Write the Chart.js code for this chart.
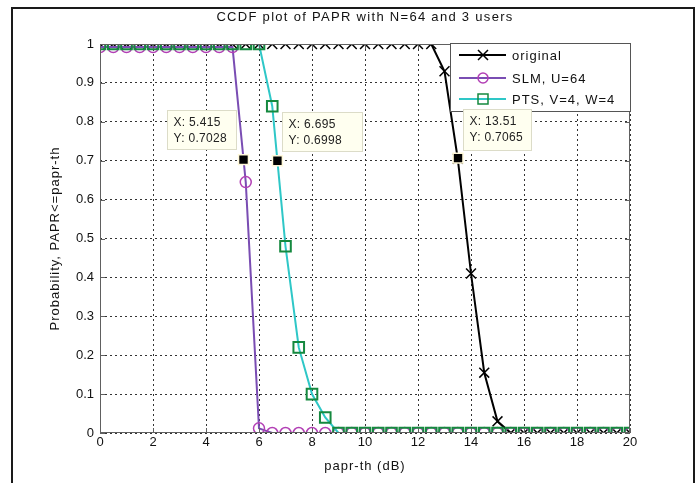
<!DOCTYPE html>
<html>
<head>
<meta charset="utf-8">
<script src="https://cdn.jsdelivr.net/npm/chart.js@4/dist/chart.umd.min.js"></script>
<style>
  html, body { margin: 0; padding: 0; background: #fff; }
  #wrap { width: 699px; height: 483px; }
</style>
</head>
<body>
<div id="wrap"><canvas id="myChart" width="699" height="483"></canvas></div>
<script>
// papr-th (dB) sample points
const paprTh = [0, 0.5, 1, 1.5, 2, 2.5, 3, 3.5, 4, 4.5, 5, 5.5, 6, 6.5, 7, 7.5, 8, 8.5, 9, 9.5,
    10, 10.5, 11, 11.5, 12, 12.5, 13, 13.5, 14, 14.5, 15, 15.5, 16, 16.5, 17, 17.5, 18, 18.5, 19, 19.5, 20];

const original = [1, 1, 1, 1, 1, 1, 1, 1, 1, 1, 1, 1, 1, 1, 1, 1, 1, 1, 1, 1,
    1, 1, 1, 1, 1, 1, 0.93, 0.705, 0.41, 0.155, 0.03, 0, 0, 0, 0, 0, 0, 0, 0, 0, 0];

const slm = [0.992, 0.992, 0.992, 0.992, 0.992, 0.992, 0.992, 0.992, 0.992, 0.992, 0.992, 0.645, 0.012, 0, 0, 0, 0, 0, 0, 0,
    0, 0, 0, 0, 0, 0, 0, 0, 0, 0, 0, 0, 0, 0, 0, 0, 0, 0, 0, 0, 0];

const pts = [1, 1, 1, 1, 1, 1, 1, 1, 1, 1, 1, 1, 1, 0.84, 0.48, 0.22, 0.1, 0.04, 0, 0,
    0, 0, 0, 0, 0, 0, 0, 0, 0, 0, 0, 0, 0, 0, 0, 0, 0, 0, 0, 0, 0];

const seriesNames = ['original', 'SLM, U=64', 'PTS, V=4, W=4'];

// data cursors
const tipX = [5.415, 6.695, 13.51];
const tipY = [0.7028, 0.6998, 0.7065];

const xTicks = [0, 2, 4, 6, 8, 10, 12, 14, 16, 18, 20];
const yTicks = [0, 0.1, 0.2, 0.3, 0.4, 0.5, 0.6, 0.7, 0.8, 0.9, 1];

const font = 'Liberation Sans, Arial, sans-serif';

function pairs(xs, ys) {
    return xs.map((x, i) => ({ x: x, y: ys[i] }));
}

// tip box offsets relative to the marker pixel: [dx, dy, w, h]
const tipBoxes = [[-76, -50, 69, 39], [5, -49, 80, 39], [5, -49, 68, 41]];

const decorPlugin = {
    id: 'decor',
    beforeDraw(chart) {
        const c = chart.ctx;
        c.save();
        c.fillStyle = '#fff';
        c.fillRect(0, 0, chart.width, chart.height);
        c.restore();
    },
    afterDraw(chart) {
        const c = chart.ctx;
        const a = chart.chartArea;
        const xs = chart.scales.x, ys = chart.scales.y;
        c.save();

        // outer frame
        c.strokeStyle = '#1a1a1a';
        c.lineWidth = 2;
        c.beginPath();
        c.moveTo(12, 490);
        c.lineTo(12, 8);
        c.lineTo(694, 8);
        c.lineTo(694, 490);
        c.stroke();

        // axes box + inner ticks
        c.strokeStyle = '#606060';
        c.lineWidth = 1;
        c.strokeRect(a.left + 0.5, a.top + 0.5, a.right - a.left - 1, a.bottom - a.top - 1);
        c.beginPath();
        xTicks.forEach(t => {
            const px = Math.round(xs.getPixelForValue(t)) + 0.5;
            c.moveTo(px, a.bottom); c.lineTo(px, a.bottom - 5);
            c.moveTo(px, a.top); c.lineTo(px, a.top + 5);
        });
        yTicks.forEach(t => {
            const py = Math.round(ys.getPixelForValue(t)) + 0.5;
            c.moveTo(a.left, py); c.lineTo(a.left + 5, py);
            c.moveTo(a.right, py); c.lineTo(a.right - 5, py);
        });
        c.stroke();

        // title and axis labels
        c.fillStyle = '#111';
        c.font = '13px ' + font;
        c.letterSpacing = '1.3px';
        c.textAlign = 'center';
        c.textBaseline = 'middle';
        c.fillText('CCDF plot of PAPR with N=64 and 3 users', (a.left + a.right) / 2, 17);
        c.letterSpacing = '1px';
        c.fillText('papr-th (dB)', (a.left + a.right) / 2, 466);
        c.save();
        c.translate(55, (a.top + a.bottom) / 2);
        c.rotate(-Math.PI / 2);
        c.fillText('Probability, PAPR<=papr-th', 0, 0);
        c.restore();

        // legend
        const lx = 450, ly = a.top - 1, lw = a.right - 450, lh = 68;
        c.fillStyle = '#fff';
        c.fillRect(lx, ly, lw, lh);
        c.strokeStyle = '#555';
        c.strokeRect(lx + 0.5, ly + 0.5, lw, lh);
        const rows = [55, 78, 99];
        const ds = chart.data.datasets;
        [0, 1, 2].forEach(i => {
            const d = ds.find(s => s.label === seriesNames[i]);
            const y = rows[i];
            c.strokeStyle = d.borderColor;
            c.lineWidth = 2;
            c.beginPath();
            c.moveTo(459, y); c.lineTo(506, y);
            c.stroke();
            c.strokeStyle = d.pointBorderColor;
            c.lineWidth = 1.5;
            c.beginPath();
            if (i === 0) {
                c.moveTo(478, y - 5); c.lineTo(488, y + 5);
                c.moveTo(478, y + 5); c.lineTo(488, y - 5);
            } else if (i === 1) {
                c.arc(483, y, 5, 0, Math.PI * 2);
            } else {
                c.rect(478, y - 5, 10, 10);
            }
            c.stroke();
            c.fillStyle = '#111';
            c.textAlign = 'left';
            c.font = '13px ' + font;
            c.letterSpacing = '1px';
            c.fillText(seriesNames[i], 512, y + 1);
        });

        // data tip boxes
        c.font = '12px ' + font;
        c.letterSpacing = '0.3px';
        c.textAlign = 'left';
        tipX.forEach((tx, i) => {
            const px = xs.getPixelForValue(tx), py = ys.getPixelForValue(tipY[i]);
            const b = tipBoxes[i];
            const bx = Math.round(px + b[0]) + 0.5, by = Math.round(py + b[1]) + 0.5;
            c.fillStyle = '#fffff0';
            c.fillRect(bx, by, b[2], b[3]);
            c.strokeStyle = '#dcdcc8';
            c.lineWidth = 1;
            c.strokeRect(bx, by, b[2], b[3]);
            c.fillStyle = '#222';
            c.fillText('X: ' + tx, bx + 6, by + 12);
            c.fillText('Y: ' + tipY[i], bx + 6, by + 28);
        });
        c.restore();
    }
};

const ctx = document.getElementById('myChart').getContext('2d');
const myChart = new Chart(ctx, {
    type: 'scatter',
    data: {
        datasets: [{
            label: 'tips',
            data: pairs(tipX, tipY),
            showLine: false,
            pointStyle: 'rect',
            pointRadius: 7,
            backgroundColor: '#000',
            pointBackgroundColor: '#000',
            pointBorderColor: '#fff8d8',
            pointBorderWidth: 1.5,
            order: 0
        }, {
            label: seriesNames[2],
            data: pairs(paprTh, pts),
            showLine: true,
            borderColor: '#2ec7c7',
            borderWidth: 2,
            pointStyle: 'rect',
            pointRadius: 7.5,
            pointBorderColor: '#15893f',
            pointBackgroundColor: 'rgba(0,0,0,0)',
            pointBorderWidth: 2,
            order: 1
        }, {
            label: seriesNames[1],
            data: pairs(paprTh, slm),
            showLine: true,
            borderColor: '#7a4db3',
            borderWidth: 2,
            pointStyle: 'circle',
            pointRadius: 5.5,
            pointBorderColor: '#b23fb5',
            pointBackgroundColor: 'rgba(0,0,0,0)',
            pointBorderWidth: 1.5,
            order: 2
        }, {
            label: seriesNames[0],
            data: pairs(paprTh, original),
            showLine: true,
            borderColor: '#000',
            borderWidth: 2,
            pointStyle: 'crossRot',
            pointRadius: 7,
            pointBorderColor: '#000',
            pointBorderWidth: 1.5,
            order: 3
        }]
    },
    options: {
        responsive: false,
        animation: false,
        layout: { padding: { left: 0, right: 69, top: 44, bottom: 0 } },
        plugins: {
            legend: { display: false },
            tooltip: { enabled: false }
        },
        scales: {
            x: {
                type: 'linear',
                min: 0,
                max: 20,
                afterBuildTicks: s => { s.ticks = xTicks.map(v => ({ value: v })); },
                afterFit: s => { s.height = 50; },
                ticks: { color: '#111', font: { family: font, size: 13 }, padding: 2, maxRotation: 0 },
                grid: { color: '#333', drawTicks: false },
                border: { display: false, dash: [2, 3] }
            },
            y: {
                min: 0,
                max: 1,
                afterBuildTicks: s => { s.ticks = yTicks.map(v => ({ value: v })); },
                afterFit: s => { s.width = 100; },
                ticks: { color: '#111', font: { family: font, size: 13 }, padding: 6, callback: v => String(v) },
                grid: { color: '#333', drawTicks: false },
                border: { display: false, dash: [2, 3] }
            }
        }
    },
    plugins: [decorPlugin]
});
</script>
</body>
</html>
